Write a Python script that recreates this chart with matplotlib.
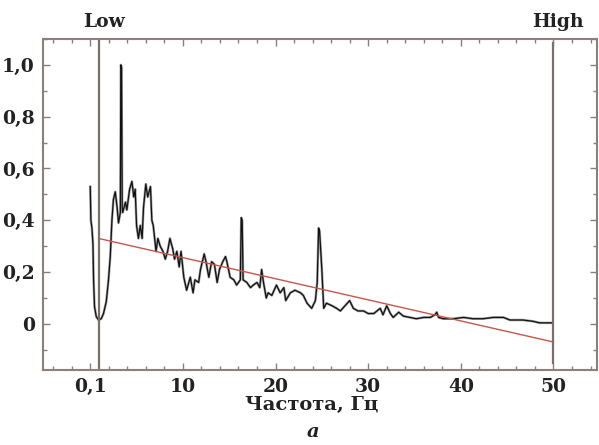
import matplotlib.pyplot as plt
from matplotlib.ticker import FixedLocator, MultipleLocator

# spectrum (Hz, normalised amplitude)
freq = [0.00, 0.03, 0.07, 0.18, 0.29, 0.36, 0.46, 0.65, 0.90, 1.19, 1.43, 1.73,
        1.97, 2.16, 2.34, 2.50, 2.70, 2.90, 3.05, 3.25, 3.30, 3.38, 3.45, 3.50,
        3.80, 3.95, 4.25, 4.50, 4.70, 4.85, 5.00, 5.20, 5.40, 5.60, 5.75, 6.00,
        6.20, 6.50, 6.65, 6.80, 7.10, 7.30, 7.55, 7.85, 8.10, 8.35, 8.60, 8.90,
        9.10, 9.35, 9.60, 9.80, 10.1, 10.4, 10.8, 11.1, 11.3, 11.7, 11.9, 12.3,
        12.5, 12.8, 13.1, 13.4, 13.7, 13.95, 14.3, 14.6, 14.75, 15.1, 15.5, 15.8,
        16.2, 16.3, 16.4, 16.5, 16.9, 17.3, 17.6, 18.0, 18.3, 18.5, 18.7, 19.0,
        19.2, 19.6, 20.1, 20.5, 20.9, 21.1, 21.6, 22.1, 22.7, 23.0, 23.4, 23.9,
        24.3, 24.5, 24.65, 24.75, 25.0, 25.2, 25.5, 26.1, 26.6, 27.0, 27.5, 28.0,
        28.4, 28.9, 29.5, 30.0, 30.6, 31.3, 31.6, 32.0, 32.4, 32.7, 33.3, 33.8,
        34.5, 35.2, 36.0, 36.7, 37.2, 37.4, 37.6, 38.1, 39.2, 40.3, 41.3, 42.4,
        43.5, 44.6, 45.3, 46.0, 46.7, 47.8, 48.5, 49.9]
amp = [0.53, 0.47, 0.40, 0.37, 0.31, 0.17, 0.067, 0.028, 0.015, 0.02, 0.04, 0.086,
       0.17, 0.26, 0.40, 0.48, 0.51, 0.45, 0.39, 0.43, 1.00, 0.99, 0.45, 0.43,
       0.47, 0.44, 0.52, 0.55, 0.49, 0.52, 0.38, 0.33, 0.38, 0.33, 0.45, 0.54,
       0.49, 0.53, 0.40, 0.38, 0.28, 0.33, 0.30, 0.28, 0.25, 0.28, 0.33, 0.29,
       0.25, 0.28, 0.22, 0.28, 0.18, 0.13, 0.18, 0.12, 0.17, 0.16, 0.21, 0.27,
       0.24, 0.18, 0.24, 0.23, 0.16, 0.21, 0.24, 0.26, 0.24, 0.18, 0.17, 0.15,
       0.17, 0.41, 0.40, 0.17, 0.16, 0.14, 0.15, 0.16, 0.14, 0.21, 0.16, 0.10,
       0.12, 0.11, 0.15, 0.12, 0.14, 0.09, 0.12, 0.13, 0.12, 0.11, 0.08, 0.06,
       0.09, 0.16, 0.37, 0.36, 0.21, 0.06, 0.08, 0.07, 0.06, 0.05, 0.07, 0.09,
       0.06, 0.05, 0.05, 0.04, 0.04, 0.06, 0.035, 0.07, 0.04, 0.025, 0.045, 0.03,
       0.025, 0.02, 0.025, 0.025, 0.035, 0.045, 0.025, 0.02, 0.02, 0.025, 0.02, 0.02,
       0.025, 0.025, 0.015, 0.015, 0.015, 0.01, 0.004, 0.004]

# trend line end points and band limits
trend_x = [0.9, 50.0]
trend_y = [0.33, -0.07]
low_f = 0.9
high_f = 50.0

xticks = [0, 10, 20, 30, 40, 50]
xticklabels = ["0,1", "10", "20", "30", "40", "50"]
yticks = [0, 0.2, 0.4, 0.6, 0.8, 1.0]
yticklabels = ["0", "0,2", "0,4", "0,6", "0,8", "1,0"]

frame = "#8a7f7a"
bandc = "#7a706b"
font = dict(family="DejaVu Serif", weight="bold")

fig = plt.figure(figsize=(5.99, 4.45), dpi=100)
ax = fig.add_axes([43 / 599, 75 / 445, 554 / 599, 331 / 445])

ax.plot(freq, amp, color="#a0a0a0", lw=1.8)
ax.plot(freq, amp, color="#111111", lw=0.9)
ax.plot(trend_x, trend_y, color="#c8554a", lw=1.0)
ax.axvline(low_f, color=bandc, lw=1.6)
ax.plot([high_f, high_f], [1.085, -0.15], color=bandc, lw=1.6)

ax.set_xlim(-5.1, 54.7)
ax.set_ylim(-0.178, 1.10)

ax.xaxis.set_major_locator(FixedLocator(xticks))
ax.set_xticklabels(xticklabels, fontsize=13.5, **font)
ax.xaxis.set_minor_locator(MultipleLocator(2))
ax.yaxis.set_major_locator(FixedLocator(yticks))
ax.set_yticklabels(yticklabels, fontsize=13.5, **font)
ax.yaxis.set_minor_locator(MultipleLocator(0.1))

ax.tick_params(which="both", direction="in", top=True, right=True,
               color=frame, width=1.0, labelcolor="#222222")
ax.tick_params(which="major", length=5, pad=6)
ax.tick_params(which="minor", length=3)
for s in ax.spines.values():
    s.set_color(frame)
    s.set_linewidth(1.5)

ax.text(low_f + 0.6, 1.052, "Low", fontsize=13.5, ha="center", va="center",
        transform=ax.get_xaxis_transform(), color="#222222", **font)
ax.text(high_f + 0.5, 1.052, "High", fontsize=13.5, ha="center", va="center",
        transform=ax.get_xaxis_transform(), color="#222222", **font)

fig.text(312 / 599, 1 - 405 / 445, "Частота, Гц", fontsize=14, ha="center",
         va="center", color="#222222", **font)
fig.text(313 / 599, 1 - 432 / 445, "a", fontsize=14, ha="center", va="center",
         color="#222222", family="DejaVu Serif", weight="bold", style="italic")

fig.savefig("out.png", dpi=100)
